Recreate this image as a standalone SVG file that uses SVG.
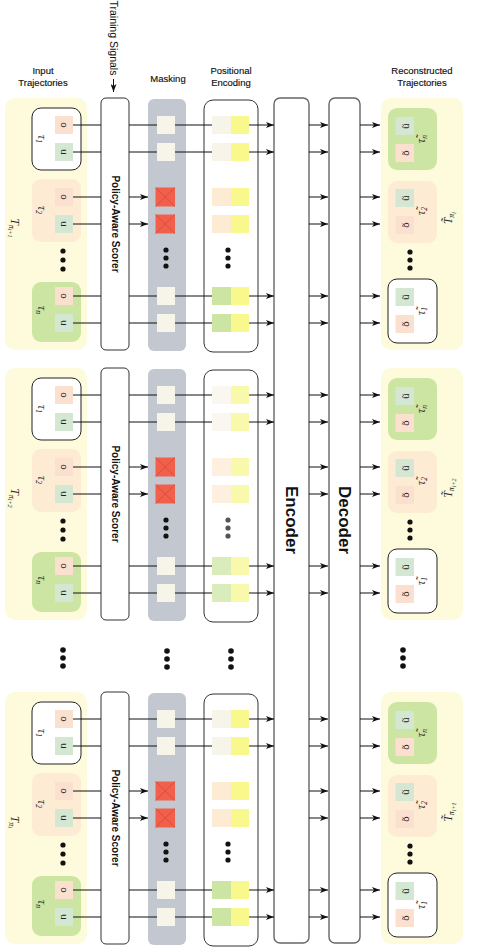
<svg xmlns="http://www.w3.org/2000/svg" xmlns:xlink="http://www.w3.org/1999/xlink" width="493" height="948" viewBox="0 0 493 948">
<style>
.t{font-family:"Liberation Sans",Arial,sans-serif;fill:#111}
.title{font-size:9.5px;text-anchor:middle;stroke:#111;stroke-width:0.15}
.b{font-weight:bold}
.m{font-family:"Liberation Serif","DejaVu Serif",serif;font-style:italic;fill:#222;text-anchor:middle}
.sl{font-family:"Liberation Sans",Arial,sans-serif;font-size:9.5px;fill:#222;text-anchor:middle}
.panel{fill:#fdfbdc}
.wbox{fill:#fff;stroke:#222;stroke-width:1}
.obox{fill:#fdebd3}
.gbox{fill:#cde5a3}
.so{fill:#fbdfcf}
.su{fill:#d3e7d3}
.beige{fill:#f7f4ea}
.red{fill:#f2604c}
.xl{stroke:#c9463a;stroke-width:.7;fill:none}
.pey{fill:#f8f88c}
.pew{fill:#f7f4ea}
.peo{fill:#fdebd3}
.peg{fill:#cde5a3}
.col{fill:#fff;stroke:#333;stroke-width:1}
.big{fill:#fff;stroke:#666;stroke-width:1.4}
.mask{fill:#c3c8d0}
.dot{fill:#111}
.c line{stroke:#111;stroke-width:1}
</style>
<defs>
<marker id="ah" markerUnits="userSpaceOnUse" markerWidth="8" markerHeight="6" refX="8" refY="3" orient="auto"><path d="M0,0 L8,3 L0,6 L2,3 z" fill="#111"/></marker>
<g id="tpl-in-panel"><rect class="panel" x="5" y="98" width="82" height="252" rx="10"/></g>
<g id="tpl-in-tau1">
<rect class="wbox" x="32" y="108" width="49" height="62" rx="9"/>
<rect class="so" x="55" y="116" width="18" height="18"/>
<rect class="su" x="55" y="143" width="18" height="18"/>
<text class="sl" transform="translate(61,125) rotate(90)">o</text>
<text class="sl" transform="translate(61,152) rotate(90)">u</text>
<text class="m" font-size="11.5" transform="translate(37.5,139) rotate(90)">τ<tspan font-size="7.5" dy="2">1</tspan></text>
</g>
<g id="tpl-in-tau2">
<rect class="obox" x="32" y="179" width="49" height="63" rx="9"/>
<rect class="so" x="55" y="188" width="18" height="18"/>
<rect class="su" x="55" y="215" width="18" height="18"/>
<text class="sl" transform="translate(61,197) rotate(90)">o</text>
<text class="sl" transform="translate(61,224) rotate(90)">u</text>
<text class="m" font-size="11.5" transform="translate(37.5,210) rotate(90)">τ<tspan font-size="7.5" dy="2">2</tspan></text>
</g>
<g id="tpl-in-dots"><circle class="dot" cx="63" cy="251" r="2.6"/><circle class="dot" cx="63" cy="260" r="2.6"/><circle class="dot" cx="63" cy="269" r="2.6"/></g>
<g id="tpl-in-taun">
<rect class="gbox" x="32" y="282" width="49" height="60" rx="9"/>
<rect class="so" x="55" y="287" width="18" height="18"/>
<rect class="su" x="55" y="314" width="18" height="18"/>
<text class="sl" transform="translate(61,296) rotate(90)">o</text>
<text class="sl" transform="translate(61,323) rotate(90)">u</text>
<text class="m" font-size="11.5" transform="translate(37.5,310) rotate(90)">τ<tspan font-size="7.5" dy="2">n</tspan></text>
</g>
<g id="tpl-scorer">
<rect class="col" x="101" y="98" width="28" height="252" rx="5"/>
<text class="t b" font-size="10" text-anchor="middle" transform="translate(111.5,224) rotate(90)">Policy-Aware Scorer</text>
</g>
<g id="tpl-mask">
<rect class="mask" x="148" y="99" width="38" height="252" rx="6"/>
<rect class="beige" x="157" y="116" width="18" height="18"/>
<rect class="beige" x="157" y="143" width="18" height="18"/>
<rect class="red" x="155.5" y="187.5" width="19.5" height="19"/><path class="xl" d="M155.5,187.5 L175,206.5 M175,187.5 L155.5,206.5"/>
<rect class="red" x="155.5" y="214.5" width="19.5" height="19"/><path class="xl" d="M155.5,214.5 L175,233.5 M175,214.5 L155.5,233.5"/>
<circle class="dot" cx="166" cy="250" r="2.6"/><circle class="dot" cx="166" cy="258" r="2.6"/><circle class="dot" cx="166" cy="266" r="2.6"/>
<rect class="beige" x="157" y="287" width="18" height="18"/>
<rect class="beige" x="157" y="314" width="18" height="18"/>
</g>
<g id="tpl-pe-box"><rect class="col" x="204" y="100" width="54" height="252" rx="9"/></g>
<g id="tpl-pe-pairs">
<rect class="pew" x="212" y="116" width="19" height="18"/><rect class="pey" x="231" y="116" width="18" height="18"/>
<rect class="pew" x="212" y="143" width="19" height="18"/><rect class="pey" x="231" y="143" width="18" height="18"/>
<rect class="peo" x="212" y="188" width="19" height="18"/><rect class="pey" x="231" y="188" width="18" height="18"/>
<rect class="peo" x="212" y="215" width="19" height="18"/><rect class="pey" x="231" y="215" width="18" height="18"/>
<rect class="peg" x="212" y="287" width="19" height="18"/><rect class="pey" x="231" y="287" width="18" height="18"/>
<rect class="peg" x="212" y="314" width="19" height="18"/><rect class="pey" x="231" y="314" width="18" height="18"/>
</g>
<g id="tpl-pe-dots"><circle cx="228" cy="250" r="2.6"/><circle cx="228" cy="258" r="2.6"/><circle cx="228" cy="266" r="2.6"/></g>
<g id="tpl-out-panel"><rect class="panel" x="381" y="98" width="82" height="252" rx="10"/></g>
<g id="tpl-out-taun">
<rect class="gbox" x="388" y="108" width="49" height="62" rx="9"/>
<rect class="su" x="395.5" y="117" width="18.5" height="18"/>
<rect class="so" x="395.5" y="144" width="18.5" height="18"/>
<text class="sl" transform="translate(408.5,126) rotate(-90)">ũ</text>
<text class="sl" transform="translate(408.5,153) rotate(-90)">õ</text>
<text class="m" font-size="11.5" transform="translate(424.5,139) rotate(-90)">τ̃<tspan font-size="7.5" dy="2">n</tspan></text>
</g>
<g id="tpl-out-tau2">
<rect class="obox" x="388" y="181" width="49" height="62" rx="9"/>
<rect class="su" x="395.5" y="189" width="18.5" height="18"/>
<rect class="so" x="395.5" y="216" width="18.5" height="18"/>
<text class="sl" transform="translate(408.5,198) rotate(-90)">ũ</text>
<text class="sl" transform="translate(408.5,225) rotate(-90)">õ</text>
<text class="m" font-size="11.5" transform="translate(424.5,211) rotate(-90)">τ̃<tspan font-size="7.5" dy="2">2</tspan></text>
</g>
<g id="tpl-out-dots"><circle class="dot" cx="410" cy="252" r="2.6"/><circle class="dot" cx="410" cy="260" r="2.6"/><circle class="dot" cx="410" cy="268" r="2.6"/></g>
<g id="tpl-out-tau1">
<rect class="wbox" x="388" y="279" width="49" height="64" rx="9"/>
<rect class="su" x="395.5" y="288" width="18.5" height="18"/>
<rect class="so" x="395.5" y="315" width="18.5" height="18"/>
<text class="sl" transform="translate(408.5,297) rotate(-90)">ũ</text>
<text class="sl" transform="translate(408.5,324) rotate(-90)">õ</text>
<text class="m" font-size="11.5" transform="translate(424.5,311) rotate(-90)">τ̃<tspan font-size="7.5" dy="2">1</tspan></text>
</g>
</defs>

<rect width="493" height="948" fill="#fff"/>

<g id="titles">
<text class="t title" x="43" y="74">Input</text>
<text class="t title" x="43" y="85.5">Trajectories</text>
<text class="t title" x="168" y="82">Masking</text>
<text class="t title" x="231" y="74">Positional</text>
<text class="t title" x="231" y="85.5">Encoding</text>
<text class="t title" x="422" y="74">Reconstructed</text>
<text class="t title" x="422" y="85.5">Trajectories</text>
</g>

<g id="training-signals">
<text class="t" font-size="10.5" transform="translate(110,0.5) rotate(90)">Training Signals</text>
</g>

<!-- Group 1 -->
<g id="g1-input-panel"><use xlink:href="#tpl-in-panel"/>
<text class="m" font-size="11.5" transform="translate(11,228) rotate(90)">T<tspan font-size="8" dy="2">π</tspan><tspan font-size="6" dy="1.5">i+1</tspan></text></g>
<g id="g1-tau1"><use xlink:href="#tpl-in-tau1"/></g>
<g id="g1-tau2"><use xlink:href="#tpl-in-tau2"/></g>
<g id="g1-in-dots"><use xlink:href="#tpl-in-dots"/></g>
<g id="g1-taun"><use xlink:href="#tpl-in-taun"/></g>
<g id="g1-scorer"><use xlink:href="#tpl-scorer"/></g>
<g id="g1-masking"><use xlink:href="#tpl-mask"/></g>
<g id="g1-pe"><use xlink:href="#tpl-pe-box"/><use xlink:href="#tpl-pe-pairs"/><use xlink:href="#tpl-pe-dots" fill="#111"/></g>
<g id="g1-out-panel"><use xlink:href="#tpl-out-panel"/>
<text class="m" font-size="11.5" transform="translate(452,218) rotate(-90)">T̃<tspan font-size="8" dy="2">π</tspan><tspan font-size="6" dy="1.5">i</tspan></text></g>
<g id="g1-out-taun"><use xlink:href="#tpl-out-taun"/></g>
<g id="g1-out-tau2"><use xlink:href="#tpl-out-tau2"/></g>
<g id="g1-out-dots"><use xlink:href="#tpl-out-dots"/></g>
<g id="g1-out-tau1"><use xlink:href="#tpl-out-tau1"/></g>

<!-- Group 2 -->
<g id="g2-input-panel" transform="translate(0,270)"><use xlink:href="#tpl-in-panel"/>
<text class="m" font-size="11.5" transform="translate(11,228) rotate(90)">T<tspan font-size="8" dy="2">π</tspan><tspan font-size="6" dy="1.5">i+2</tspan></text></g>
<g id="g2-tau1" transform="translate(0,270)"><use xlink:href="#tpl-in-tau1"/></g>
<g id="g2-tau2" transform="translate(0,270)"><use xlink:href="#tpl-in-tau2"/></g>
<g id="g2-in-dots" transform="translate(0,270)"><use xlink:href="#tpl-in-dots"/></g>
<g id="g2-taun" transform="translate(0,270)"><use xlink:href="#tpl-in-taun"/></g>
<g id="g2-scorer" transform="translate(0,270)"><use xlink:href="#tpl-scorer"/></g>
<g id="g2-masking" transform="translate(0,270)"><use xlink:href="#tpl-mask"/></g>
<g id="g2-pe" transform="translate(0,270)"><use xlink:href="#tpl-pe-box"/><use xlink:href="#tpl-pe-pairs" opacity="0.72"/><use xlink:href="#tpl-pe-dots" fill="#555"/></g>
<g id="g2-out-panel" transform="translate(0,270)"><use xlink:href="#tpl-out-panel"/>
<text class="m" font-size="11.5" transform="translate(452,218) rotate(-90)">T̃<tspan font-size="8" dy="2">π</tspan><tspan font-size="6" dy="1.5">i+2</tspan></text></g>
<g id="g2-out-taun" transform="translate(0,270)"><use xlink:href="#tpl-out-taun"/></g>
<g id="g2-out-tau2" transform="translate(0,270)"><use xlink:href="#tpl-out-tau2"/></g>
<g id="g2-out-dots" transform="translate(0,270)"><use xlink:href="#tpl-out-dots"/></g>
<g id="g2-out-tau1" transform="translate(0,270)"><use xlink:href="#tpl-out-tau1"/></g>

<!-- ellipsis between groups -->
<g id="ellipsis">
<circle class="dot" cx="63" cy="650" r="2.8"/><circle class="dot" cx="63" cy="658" r="2.8"/><circle class="dot" cx="63" cy="666" r="2.8"/>
<circle class="dot" cx="167" cy="651" r="2.8"/><circle class="dot" cx="167" cy="659" r="2.8"/><circle class="dot" cx="167" cy="667" r="2.8"/>
<circle class="dot" cx="231" cy="651" r="2.8"/><circle class="dot" cx="231" cy="659" r="2.8"/><circle class="dot" cx="231" cy="667" r="2.8"/>
<circle class="dot" cx="403" cy="650" r="2.8"/><circle class="dot" cx="403" cy="658" r="2.8"/><circle class="dot" cx="403" cy="666" r="2.8"/>
</g>

<!-- Group 3 -->
<g id="g3-input-panel" transform="translate(0,594)"><use xlink:href="#tpl-in-panel"/>
<text class="m" font-size="11.5" transform="translate(11,228) rotate(90)">T<tspan font-size="8" dy="2">π</tspan><tspan font-size="6" dy="1.5">i</tspan></text></g>
<g id="g3-tau1" transform="translate(0,594)"><use xlink:href="#tpl-in-tau1"/></g>
<g id="g3-tau2" transform="translate(0,594)"><use xlink:href="#tpl-in-tau2"/></g>
<g id="g3-in-dots" transform="translate(0,594)"><use xlink:href="#tpl-in-dots"/></g>
<g id="g3-taun" transform="translate(0,594)"><use xlink:href="#tpl-in-taun"/></g>
<g id="g3-scorer" transform="translate(0,594)"><use xlink:href="#tpl-scorer"/></g>
<g id="g3-masking" transform="translate(0,594)"><use xlink:href="#tpl-mask"/></g>
<g id="g3-pe" transform="translate(0,594)"><use xlink:href="#tpl-pe-box"/><use xlink:href="#tpl-pe-pairs"/><use xlink:href="#tpl-pe-dots" fill="#111"/></g>
<g id="g3-out-panel" transform="translate(0,594)"><use xlink:href="#tpl-out-panel"/>
<text class="m" font-size="11.5" transform="translate(452,218) rotate(-90)">T̃<tspan font-size="8" dy="2">π</tspan><tspan font-size="6" dy="1.5">i+1</tspan></text></g>
<g id="g3-out-taun" transform="translate(0,594)"><use xlink:href="#tpl-out-taun"/></g>
<g id="g3-out-tau2" transform="translate(0,594)"><use xlink:href="#tpl-out-tau2"/></g>
<g id="g3-out-dots" transform="translate(0,594)"><use xlink:href="#tpl-out-dots"/></g>
<g id="g3-out-tau1" transform="translate(0,594)"><use xlink:href="#tpl-out-tau1"/></g>

<g id="encoder">
<rect class="big" x="274" y="98" width="35" height="845" rx="6"/>
<text class="t b" font-size="17" text-anchor="middle" transform="translate(285.5,520) rotate(90)">Encoder</text>
</g>
<g id="decoder">
<rect class="big" x="329" y="98" width="31" height="845" rx="6"/>
<text class="t b" font-size="17" text-anchor="middle" transform="translate(338.5,520) rotate(90)">Decoder</text>
</g>

<g id="connectors" class="c">
<line x1="113.5" y1="79" x2="113.5" y2="92" marker-end="url(#ah)"/>
<!-- group 1 -->
<line x1="73" y1="125" x2="101" y2="125"/><line x1="129" y1="125" x2="157" y2="125"/><line x1="175" y1="125" x2="212" y2="125"/><line x1="249" y1="125" x2="274" y2="125" marker-end="url(#ah)"/><line x1="309" y1="125" x2="328" y2="125" marker-end="url(#ah)"/><line x1="360" y1="125" x2="380" y2="125" marker-end="url(#ah)"/>
<line x1="73" y1="152" x2="101" y2="152"/><line x1="129" y1="152" x2="157" y2="152"/><line x1="175" y1="152" x2="212" y2="152"/><line x1="249" y1="152" x2="274" y2="152" marker-end="url(#ah)"/><line x1="309" y1="152" x2="328" y2="152" marker-end="url(#ah)"/><line x1="360" y1="152" x2="380" y2="152" marker-end="url(#ah)"/>
<line x1="73" y1="197" x2="101" y2="197"/><line x1="129" y1="197" x2="148" y2="197" marker-end="url(#ah)"/><line x1="309" y1="197" x2="328" y2="197" marker-end="url(#ah)"/><line x1="360" y1="197" x2="380" y2="197" marker-end="url(#ah)"/>
<line x1="73" y1="224" x2="101" y2="224"/><line x1="129" y1="224" x2="148" y2="224" marker-end="url(#ah)"/><line x1="309" y1="224" x2="328" y2="224" marker-end="url(#ah)"/><line x1="360" y1="224" x2="380" y2="224" marker-end="url(#ah)"/>
<line x1="73" y1="296" x2="101" y2="296"/><line x1="129" y1="296" x2="157" y2="296"/><line x1="175" y1="296" x2="212" y2="296"/><line x1="249" y1="296" x2="274" y2="296" marker-end="url(#ah)"/><line x1="309" y1="296" x2="328" y2="296" marker-end="url(#ah)"/><line x1="360" y1="296" x2="380" y2="296" marker-end="url(#ah)"/>
<line x1="73" y1="323" x2="101" y2="323"/><line x1="129" y1="323" x2="157" y2="323"/><line x1="175" y1="323" x2="212" y2="323"/><line x1="249" y1="323" x2="274" y2="323" marker-end="url(#ah)"/><line x1="309" y1="323" x2="328" y2="323" marker-end="url(#ah)"/><line x1="360" y1="323" x2="380" y2="323" marker-end="url(#ah)"/>
<!-- group 2 -->
<line x1="73" y1="395" x2="101" y2="395"/><line x1="129" y1="395" x2="157" y2="395"/><line x1="175" y1="395" x2="212" y2="395"/><line x1="249" y1="395" x2="274" y2="395" marker-end="url(#ah)"/><line x1="309" y1="395" x2="328" y2="395" marker-end="url(#ah)"/><line x1="360" y1="395" x2="380" y2="395" marker-end="url(#ah)"/>
<line x1="73" y1="422" x2="101" y2="422"/><line x1="129" y1="422" x2="157" y2="422"/><line x1="175" y1="422" x2="212" y2="422"/><line x1="249" y1="422" x2="274" y2="422" marker-end="url(#ah)"/><line x1="309" y1="422" x2="328" y2="422" marker-end="url(#ah)"/><line x1="360" y1="422" x2="380" y2="422" marker-end="url(#ah)"/>
<line x1="73" y1="467" x2="101" y2="467"/><line x1="129" y1="467" x2="148" y2="467" marker-end="url(#ah)"/><line x1="309" y1="467" x2="328" y2="467" marker-end="url(#ah)"/><line x1="360" y1="467" x2="380" y2="467" marker-end="url(#ah)"/>
<line x1="73" y1="494" x2="101" y2="494"/><line x1="129" y1="494" x2="148" y2="494" marker-end="url(#ah)"/><line x1="309" y1="494" x2="328" y2="494" marker-end="url(#ah)"/><line x1="360" y1="494" x2="380" y2="494" marker-end="url(#ah)"/>
<line x1="73" y1="566" x2="101" y2="566"/><line x1="129" y1="566" x2="157" y2="566"/><line x1="175" y1="566" x2="212" y2="566"/><line x1="249" y1="566" x2="274" y2="566" marker-end="url(#ah)"/><line x1="309" y1="566" x2="328" y2="566" marker-end="url(#ah)"/><line x1="360" y1="566" x2="380" y2="566" marker-end="url(#ah)"/>
<line x1="73" y1="593" x2="101" y2="593"/><line x1="129" y1="593" x2="157" y2="593"/><line x1="175" y1="593" x2="212" y2="593"/><line x1="249" y1="593" x2="274" y2="593" marker-end="url(#ah)"/><line x1="309" y1="593" x2="328" y2="593" marker-end="url(#ah)"/><line x1="360" y1="593" x2="380" y2="593" marker-end="url(#ah)"/>
<!-- group 3 -->
<line x1="73" y1="719" x2="101" y2="719"/><line x1="129" y1="719" x2="157" y2="719"/><line x1="175" y1="719" x2="212" y2="719"/><line x1="249" y1="719" x2="274" y2="719" marker-end="url(#ah)"/><line x1="309" y1="719" x2="328" y2="719" marker-end="url(#ah)"/><line x1="360" y1="719" x2="380" y2="719" marker-end="url(#ah)"/>
<line x1="73" y1="746" x2="101" y2="746"/><line x1="129" y1="746" x2="157" y2="746"/><line x1="175" y1="746" x2="212" y2="746"/><line x1="249" y1="746" x2="274" y2="746" marker-end="url(#ah)"/><line x1="309" y1="746" x2="328" y2="746" marker-end="url(#ah)"/><line x1="360" y1="746" x2="380" y2="746" marker-end="url(#ah)"/>
<line x1="73" y1="791" x2="101" y2="791"/><line x1="129" y1="791" x2="148" y2="791" marker-end="url(#ah)"/><line x1="309" y1="791" x2="328" y2="791" marker-end="url(#ah)"/><line x1="360" y1="791" x2="380" y2="791" marker-end="url(#ah)"/>
<line x1="73" y1="818" x2="101" y2="818"/><line x1="129" y1="818" x2="148" y2="818" marker-end="url(#ah)"/><line x1="309" y1="818" x2="328" y2="818" marker-end="url(#ah)"/><line x1="360" y1="818" x2="380" y2="818" marker-end="url(#ah)"/>
<line x1="73" y1="890" x2="101" y2="890"/><line x1="129" y1="890" x2="157" y2="890"/><line x1="175" y1="890" x2="212" y2="890"/><line x1="249" y1="890" x2="274" y2="890" marker-end="url(#ah)"/><line x1="309" y1="890" x2="328" y2="890" marker-end="url(#ah)"/><line x1="360" y1="890" x2="380" y2="890" marker-end="url(#ah)"/>
<line x1="73" y1="917" x2="101" y2="917"/><line x1="129" y1="917" x2="157" y2="917"/><line x1="175" y1="917" x2="212" y2="917"/><line x1="249" y1="917" x2="274" y2="917" marker-end="url(#ah)"/><line x1="309" y1="917" x2="328" y2="917" marker-end="url(#ah)"/><line x1="360" y1="917" x2="380" y2="917" marker-end="url(#ah)"/>
</g>
</svg>
